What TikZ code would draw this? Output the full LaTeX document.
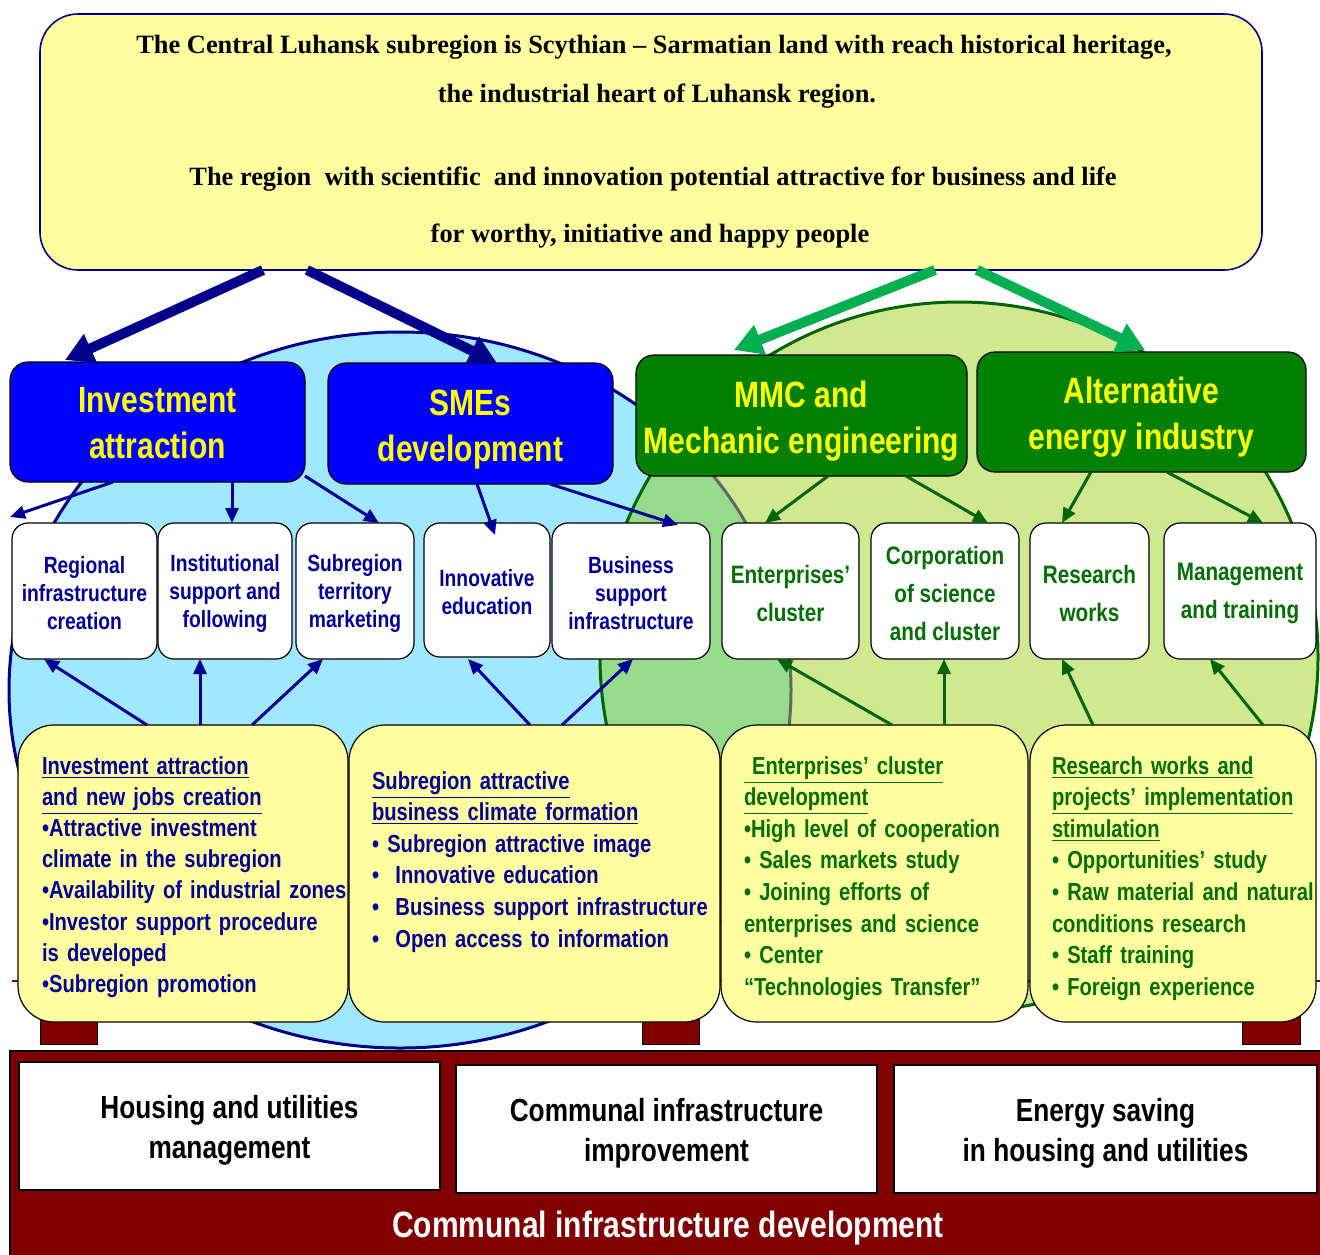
\documentclass[tikz,border=0pt]{standalone}
\usepackage{fontspec}
\setmainfont{Liberation Serif}
\newfontfamily\nar{Liberation Sans}[FakeStretch=0.82]
\usetikzlibrary{arrows.meta,fit,calc}
\definecolor{topyel}{RGB}{255,255,160}
\definecolor{yelbox}{RGB}{255,255,160}
\definecolor{ellblue}{RGB}{160,232,255}
\definecolor{ellgreen}{RGB}{208,232,144}
\definecolor{ellover}{RGB}{150,218,140}
\definecolor{navyL}{RGB}{0,0,140}
\definecolor{navyT}{RGB}{0,0,150}
\definecolor{hblue}{RGB}{0,0,255}
\definecolor{hgreen}{RGB}{0,128,0}
\definecolor{greenT}{RGB}{0,110,0}
\definecolor{darkgr}{RGB}{0,100,0}
\definecolor{brightgr}{RGB}{0,176,80}
\definecolor{maroonc}{RGB}{128,0,0}
\definecolor{hyellow}{RGB}{255,255,0}
\newcommand\hdrfont{\nar\bfseries\fontsize{18.3}{23}\selectfont}
\newcommand\wbfont{\nar\bfseries\fontsize{11.75}{14}\selectfont}
\newcommand\wgfont{\nar\bfseries\fontsize{12.6}{19}\selectfont}
\newcommand\ybfont{\nar\bfseries\fontsize{12.3}{15.8}\selectfont}
\newcommand\bbfont{\nar\bfseries\fontsize{16}{20}\selectfont}
\newcommand\topfont{\bfseries\fontsize{13.2}{16}\selectfont}
\begin{document}
\begin{tikzpicture}[x=0.5pt,y=-0.5pt,
  box/.style={inner sep=0pt, outer sep=0pt},
  hdrB/.style={box, draw=black, line width=0.6pt, fill=hblue, rounded corners=9pt},
  hdrG/.style={box, draw=black, line width=0.6pt, fill=hgreen, rounded corners=9pt},
  hdrtext/.style={box, text=hyellow, align=center, font=\hdrfont},
  wbox/.style={box, draw=black, line width=0.6pt, fill=white, rounded corners=8pt},
  wtextB/.style={box, text=navyT, align=center, font=\wbfont},
  wtextG/.style={box, text=greenT, align=center, font=\wgfont},
  ybox/.style={box, draw=black, line width=0.6pt, fill=yelbox, rounded corners=18pt},
  ytext/.style={box, anchor=base west, text width=200pt, align=left, font=\ybfont},
  bbox/.style={box, draw=black, line width=0.6pt, fill=white},
  btext/.style={box, align=center, font=\bbfont},
  toptext/.style={box, font=\topfont},
  thinB/.style={draw=navyT, line width=1.5pt, -{Triangle[length=7.5pt,width=6.5pt]}},
  thinG/.style={draw=darkgr, line width=1.5pt, -{Triangle[length=7.5pt,width=6.5pt]}},
  bigB/.style={draw=navyL, line width=5pt, -{Triangle[length=14pt,width=15pt]}},
  bigG/.style={draw=brightgr, line width=5pt, -{Triangle[length=14pt,width=15pt]}},
  leg/.style={draw=black, line width=0.5pt, fill=maroonc}
]
\useasboundingbox (0,0) rectangle (1320,1254);
\fill[white] (0,0) rectangle (1320,1254);

% ellipses
\fill[ellblue] (400,690) ellipse [x radius=195.5pt, y radius=179pt];
\draw[navyL, line width=1.5pt] (400,690) ellipse [x radius=195.5pt, y radius=179pt];
\fill[ellgreen] (959,657) ellipse [x radius=179.5pt, y radius=177.5pt];
\begin{scope}
  \clip (959,657) ellipse [x radius=179.5pt, y radius=177.5pt];
  \fill[ellover] (400,690) ellipse [x radius=195.5pt, y radius=179pt];
  \draw[black!60, line width=1.5pt] (400,690) ellipse [x radius=195.5pt, y radius=179pt];
\end{scope}
\draw[darkgr, line width=1.5pt] (959,657) ellipse [x radius=179.5pt, y radius=177.5pt];

% table line and legs
\draw[maroonc, line width=1pt] (12,981) -- (1320,981);
\node[leg, box, fit={(40,1000)(97,1044)}] (leg1) {};
\node[leg, box, fit={(642,1000)(699,1044)}] (leg2) {};
\node[leg, box, fit={(1242,1000)(1300,1044)}] (leg3) {};

% bottom band
\node[box, draw=black, line width=0.8pt, fill=maroonc, fit={(10,1051)(1322,1256)}] (band) {};
\node[bbox, fit={(19,1062)(440,1190)}] (bb1) {};
\node[bbox, fit={(456,1065)(877,1193)}] (bb2) {};
\node[bbox, fit={(894,1065)(1317,1193)}] (bb3) {};
\node[btext] (bb1t) at ($(bb1.center)+(0,4)$) {Housing and utilities\\management};
\node[btext] (bb2t) at ($(bb2.center)+(0,4)$) {Communal infrastructure\\improvement};
\node[btext] (bb3t) at ($(bb3.center)+(0,4)$) {Energy saving\\in housing and utilities};
\node[box, text=white, font=\nar\bfseries\fontsize{18.3}{22}\selectfont] (bandtxt) at (668,1228) {Communal infrastructure development};

% yellow boxes
\node[ybox, fit={(18,725)(348,1022)}] (y1) {};
\node[ybox, fit={(349,725)(720,1022)}] (y2) {};
\node[ybox, fit={(721,725)(1028,1022)}] (y3) {};
\node[ybox, fit={(1030,725)(1316,1022)}] (y4) {};

\node[ytext, text=navyT, font=\nar\bfseries\fontsize{12.3}{15.6}\selectfont] (yt1) at (42,774) {\underline{Investment attraction}\\
\underline{and new jobs creation}\\
•Attractive investment\\
climate in the subregion\\
•Availability of industrial zones\\
•Investor support procedure\\
is developed\\
•Subregion promotion};
\node[ytext, text=navyT] (yt2) at (372,789) {\underline{Subregion attractive}\\
\underline{business climate formation}\\
• Subregion attractive image\\
•\ \ Innovative education\\
•\ \ Business support infrastructure\\
•\ \ Open access to information};
\node[ytext, text=greenT] (yt3) at (744,774) {\underline{~Enterprises’ cluster}\\
\underline{development}\\
•High level of cooperation\\
• Sales markets study\\
• Joining efforts of\\
enterprises and science\\
• Center\\
“Technologies Transfer”};
\node[ytext, text=greenT] (yt4) at (1052,774) {\underline{Research works and}\\
\underline{projects’ implementation}\\
\underline{stimulation}\\
• Opportunities’ study\\
• Raw material and natural\\
conditions research\\
• Staff training\\
• Foreign experience};

% white boxes
\node[wbox, fit={(12,523)(157,659)}] (w1) {};
\node[wbox, fit={(158,523)(292,659)}] (w2) {};
\node[wbox, fit={(296,523)(414,659)}] (w3) {};
\node[wbox, fit={(424,523)(550,657)}] (w4) {};
\node[wbox, fit={(552,523)(710,659)}] (w5) {};
\node[wbox, fit={(722,523)(859,659)}] (w6) {};
\node[wbox, fit={(871,523)(1019,659)}] (w7) {};
\node[wbox, fit={(1030,523)(1149,659)}] (w8) {};
\node[wbox, fit={(1164,523)(1316,659)}] (w9) {};
\node[wtextB] (w1t) at ($(w1.center)+(0,2)$) {Regional\\infrastructure\\creation};
\node[wtextB] (w2t) at ($(w2.center)+(0,2)$) {Institutional\\support and\\following};
\node[wtextB] (w3t) at ($(w3.center)+(0,2)$) {Subregion\\territory\\marketing};
\node[wtextB] (w4t) at ($(w4.center)+(0,2)$) {Innovative\\education};
\node[wtextB] (w5t) at ($(w5.center)+(0,2)$) {Business\\support\\infrastructure};
\node[wtextG] (w6t) at ($(w6.center)+(0,2)$) {Enterprises’\\cluster};
\node[wtextG] (w7t) at ($(w7.center)+(0,2)$) {Corporation\\of science\\and cluster};
\node[wtextG] (w8t) at ($(w8.center)+(0,2)$) {Research\\works};
\node[wtextG] (w9t) at ($(w9.center)+(0,2)$) {Management\\and training};

% header boxes
\node[hdrB, fit={(10,362)(305,482)}] (inv) {};
\node[hdrB, fit={(328,363)(613,484)}] (sme) {};
\node[hdrG, fit={(636,355)(967,476)}] (mmc) {};
\node[hdrG, fit={(977,352)(1306,472)}] (alt) {};
\node[hdrtext] (invt) at ($(inv.center)+(0,1)$) {Investment\\attraction};
\node[hdrtext] (smet) at ($(sme.center)+(0,6)$) {SMEs\\development};
\node[hdrtext] (mmct) at ($(mmc.center)+(0,6)$) {MMC and\\Mechanic engineering};
\node[hdrtext] (altt) at ($(alt.center)+(0,5)$) {Alternative\\energy industry};

% top box
\node[box, draw=navyL, line width=0.8pt, fill=topyel, rounded corners=19pt, fit={(40,14)(1262,270)}] (top) {};
\node[toptext] (tl1) at (654,47) {The Central Luhansk subregion is Scythian – Sarmatian land with reach historical heritage,};
\node[toptext] (tl2) at (657,96) {the industrial heart of Luhansk region.};
\node[toptext] (tl3) at (653,179) {The region\ \ with scientific\ \ and innovation potential attractive for business and life};
\node[toptext] (tl4) at (650,236) {for worthy, initiative and happy people};

% big arrows
\draw[bigB] ($(top.south west)+(223,0)$) -- ($(inv.north west)+(55,-2)$);
\draw[bigB] ($(top.south west)+(267,0)$) -- ($(sme.north west)+(169,0)$);
\draw[bigG] ($(top.south west)+(895,0)$) -- ($(mmc.north west)+(98,-5)$);
\draw[bigG] ($(top.south west)+(937,0)$) -- ($(alt.north west)+(168,-2)$);

% thin arrows down
\coordinate (a1end) at (10,517);
\draw[thinB] ($(inv.south west)+(103,0)$) -- (a1end);
\draw[thinB] ($(inv.south west)+(222,0)$) -- ($(w2.north west)+(74,0)$);
\draw[thinB] ($(inv.south east)+(0,-6)$) -- ($(w3.north west)+(83,0)$);
\draw[thinB] ($(sme.south west)+(149,0)$) -- ($(w4.north west)+(71,12)$);
\draw[thinB] ($(sme.south west)+(222,0)$) -- ($(w5.north west)+(126,2)$);
\draw[thinG] ($(mmc.south west)+(192,0)$) -- ($(w6.north west)+(43,0)$);
\draw[thinG] ($(mmc.south west)+(270,0)$) -- ($(w7.north west)+(117,0)$);
\draw[thinG] ($(alt.south west)+(114,0)$) -- ($(w8.north west)+(32,0)$);
\draw[thinG] ($(alt.south west)+(190,0)$) -- ($(w9.north west)+(99,0)$);

% thin arrows up
\draw[thinB] ($(y1.north west)+(129,0)$) -- ($(w1.south west)+(32,0)$);
\draw[thinB] ($(y1.north west)+(182,0)$) -- ($(w2.south west)+(42,0)$);
\draw[thinB] ($(y1.north west)+(234,0)$) -- ($(w3.south west)+(27,0)$);
\draw[thinB] ($(y2.north west)+(181,0)$) -- ($(w4.south west)+(44,2)$);
\draw[thinB] ($(y2.north west)+(213,0)$) -- ($(w5.south west)+(81,0)$);
\draw[thinG] ($(y3.north west)+(171,0)$) -- ($(w6.south west)+(55,0)$);
\draw[thinG] ($(y3.north west)+(223,0)$) -- ($(w7.south west)+(73,0)$);
\draw[thinG] ($(y4.north west)+(63,0)$) -- ($(w8.south west)+(32,0)$);
\draw[thinG] ($(y4.north west)+(233,0)$) -- ($(w9.south west)+(46,0)$);
\end{tikzpicture}
\end{document}
